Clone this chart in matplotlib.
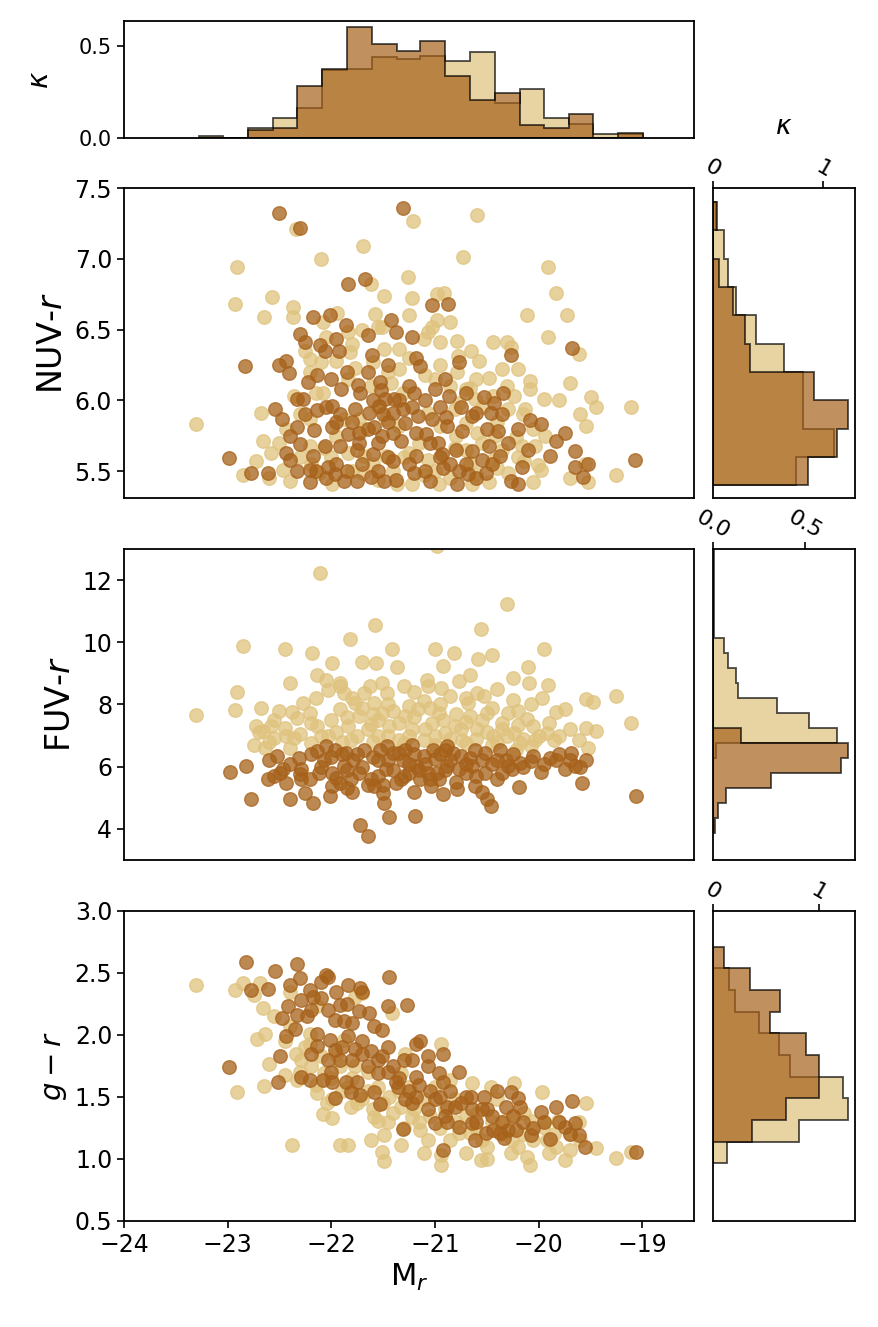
import numpy as np
import matplotlib
matplotlib.use('Agg')
import matplotlib.pyplot as plt

TAN = '#dfc27d'
BROWN = '#a6611a'
ALPHA = 0.7

# ---- marginal histograms (normalised, kappa) ----
mr_edges = [-23.28, -23.04, -22.80, -22.56, -22.33, -22.09, -21.85, -21.61, -21.37,
            -21.14, -20.90, -20.66, -20.42, -20.18, -19.95, -19.71, -19.47, -19.23, -18.99]
mr_kappa_tan = [0.011, 0, 0.057, 0.108, 0.163, 0.370, 0.375, 0.443, 0.432,
                0.447, 0.418, 0.471, 0.189, 0.267, 0.108, 0.077, 0.020, 0.020]
mr_kappa_brown = [0, 0, 0.044, 0.057, 0.284, 0.379, 0.608, 0.515, 0.473,
                  0.529, 0.341, 0.205, 0.244, 0.073, 0.055, 0.130, 0, 0.026]

nuv_edges = [5.4, 5.6, 5.8, 6.0, 6.2, 6.4, 6.6, 6.8, 7.0, 7.2, 7.4]
nuv_kappa_tan = [0.748, 1.10, 0.817, 0.817, 0.643, 0.390, 0.204, 0.132, 0.096, 0.030]
nuv_kappa_brown = [0.865, 1.12, 1.225, 0.913, 0.336, 0.288, 0.180, 0.051, 0, 0.035]

fuv_edges = [3.874, 4.356, 4.839, 5.321, 5.803, 6.286, 6.768, 7.250, 7.733, 8.215,
             8.697, 9.180, 9.662, 10.145, 10.627, 11.109, 11.592, 12.074, 12.556, 13.039]
fuv_kappa_tan = [0, 0, 0, 0, 0, 0.016, 0.674, 0.521, 0.346, 0.136,
                 0.127, 0.082, 0.059, 0.008, 0.004, 0.004, 0.004, 0.004, 0.004]
fuv_kappa_brown = [0.011, 0.029, 0.068, 0.312, 0.695, 0.733, 0.151, 0, 0, 0,
                   0, 0, 0, 0, 0, 0, 0, 0, 0]

gr_edges = [0.965, 1.140, 1.315, 1.489, 1.664, 1.838, 2.013, 2.188, 2.362, 2.537, 2.712]
gr_kappa_tan = [0.132, 0.812, 1.279, 1.226, 0.724, 0.624, 0.439, 0.207, 0.154, 0]
gr_kappa_brown = [0, 0.370, 0.693, 1.006, 1.006, 0.875, 0.536, 0.636, 0.351, 0.107]

# ---- scatter points (M_r, colour) ----
nuv_tan = [(-22.34, 7.21), (-21.21, 7.27), (-20.59, 7.31), (-22.91, 6.94), (-22.10, 7.00), (-21.69, 7.09),
           (-20.73, 7.01), (-19.91, 6.94), (-22.93, 6.68), (-22.57, 6.73), (-22.65, 6.59), (-22.37, 6.66),
           (-22.37, 6.59), (-21.94, 6.62), (-21.62, 6.82), (-21.49, 6.74), (-21.26, 6.87), (-21.22, 6.72),
           (-20.98, 6.75), (-20.91, 6.76), (-21.58, 6.61), (-19.83, 6.76), (-20.11, 6.60), (-19.73, 6.60),
           (-19.91, 6.45), (-19.61, 6.33), (-19.70, 6.12), (-19.49, 6.02), (-19.45, 5.95), (-19.11, 5.95),
           (-19.54, 5.82), (-23.31, 5.83), (-22.68, 5.91), (-22.66, 5.71), (-22.58, 5.63), (-22.73, 5.57),
           (-22.85, 5.47), (-22.40, 5.43), (-19.25, 5.47), (-19.52, 5.42), (-20.05, 5.42), (-20.98, 6.57),
           (-21.07, 6.48), (-21.03, 6.52), (-20.95, 6.41), (-20.79, 6.42), (-20.44, 6.41), (-20.30, 6.41),
           (-20.27, 6.38), (-20.78, 6.31), (-20.57, 6.28), (-20.48, 6.16), (-20.35, 6.22), (-20.20, 6.22),
           (-20.08, 6.14), (-20.08, 6.08), (-19.95, 6.01), (-20.24, 6.03), (-20.29, 5.94), (-20.13, 5.94),
           (-19.94, 5.75), (-20.03, 5.68), (-20.01, 5.54), (-19.98, 5.51), (-21.49, 6.36), (-21.35, 6.36),
           (-21.82, 6.34), (-22.21, 6.29), (-22.10, 6.27), (-21.77, 6.23), (-21.35, 6.22), (-21.55, 6.52),
           (-21.51, 6.52), (-21.84, 6.48), (-22.08, 6.55), (-21.00, 6.15), (-20.79, 6.20), (-20.70, 6.08),
           (-20.66, 6.09), (-20.77, 5.98), (-20.61, 6.01), (-20.44, 6.03), (-21.11, 6.43), (-21.42, 6.12),
           (-22.08, 6.05), (-21.84, 6.15), (-21.62, 6.10), (-21.31, 6.05), (-22.21, 6.20), (-22.36, 6.03),
           (-22.44, 5.80), (-22.21, 5.87), (-21.88, 5.87), (-21.73, 5.87), (-21.47, 5.87), (-21.07, 5.91),
           (-20.81, 5.94), (-20.70, 5.84), (-20.59, 5.77), (-20.42, 5.75), (-20.22, 5.74), (-20.16, 5.68),
           (-22.21, 5.68), (-22.07, 5.66), (-21.84, 5.63), (-21.68, 5.61), (-21.47, 5.61), (-21.25, 5.63),
           (-21.07, 5.58), (-20.81, 5.66), (-20.66, 5.56), (-20.44, 5.58), (-20.14, 5.57), (-22.47, 5.51),
           (-22.12, 5.49), (-21.99, 5.41), (-21.69, 5.49), (-21.55, 5.44), (-21.37, 5.41), (-21.22, 5.41),
           (-21.11, 5.47), (-20.96, 5.41), (-20.64, 5.41), (-20.48, 5.42), (-20.29, 5.49),
           (-22.15, 6.05), (-21.95, 6.28), (-21.80, 6.40), (-21.60, 6.27), (-21.45, 6.20), (-21.25, 6.30),
           (-21.10, 6.18), (-20.95, 6.25), (-20.85, 6.10), (-20.60, 6.15), (-20.55, 5.95), (-20.40, 5.85),
           (-20.30, 6.10), (-20.15, 5.90), (-20.05, 5.80), (-21.95, 5.75), (-21.70, 5.80), (-21.55, 5.95),
           (-21.35, 5.82), (-21.15, 5.70), (-20.95, 5.82), (-20.80, 5.75), (-20.70, 5.65), (-20.55, 5.70),
           (-20.35, 5.65), (-20.20, 5.60), (-22.30, 5.60), (-22.20, 5.55), (-22.00, 5.60), (-21.80, 5.50),
           (-21.60, 5.55), (-21.40, 5.50), (-21.30, 5.60), (-21.00, 5.50), (-20.85, 5.45), (-20.60, 5.48),
           (-20.40, 5.52), (-22.60, 5.45), (-22.50, 5.70), (-22.30, 5.90), (-22.05, 6.45), (-21.70, 6.50),
           (-21.25, 6.60), (-20.85, 6.55), (-20.65, 6.35), (-19.80, 6.00), (-19.60, 5.90), (-19.55, 5.55),
           (-19.70, 5.45), (-22.25, 6.35)]
nuv_brown = [(-22.50, 7.32), (-21.31, 7.36), (-22.30, 7.22), (-21.84, 6.82), (-21.67, 6.86), (-21.03, 6.67),
             (-20.87, 6.68), (-22.18, 6.59), (-22.01, 6.60), (-21.86, 6.53), (-21.42, 6.57), (-21.38, 6.48),
             (-21.65, 6.46), (-21.22, 6.45), (-22.30, 6.47), (-22.25, 6.41), (-22.11, 6.39), (-21.95, 6.43),
             (-21.93, 6.35), (-22.06, 6.35), (-21.61, 6.32), (-21.18, 6.30), (-21.14, 6.24), (-20.77, 6.27),
             (-20.27, 6.32), (-19.68, 6.37), (-22.83, 6.24), (-22.50, 6.25), (-22.44, 6.28), (-22.41, 6.19),
             (-22.22, 6.13), (-22.14, 6.18), (-22.00, 6.15), (-21.91, 6.08), (-21.74, 6.11), (-21.72, 6.05),
             (-21.53, 6.13), (-21.52, 6.07), (-22.33, 6.01), (-22.27, 6.01), (-21.39, 6.01), (-21.48, 6.01),
             (-21.20, 6.05), (-21.00, 6.08), (-20.90, 6.15), (-20.86, 6.03), (-20.53, 6.02), (-20.34, 6.05),
             (-20.43, 5.98), (-22.54, 5.94), (-22.48, 5.87), (-22.14, 5.93), (-21.99, 5.96), (-21.92, 5.90),
             (-21.77, 5.94), (-21.64, 5.91), (-21.54, 5.96), (-21.40, 5.91), (-21.31, 5.94), (-21.22, 5.95),
             (-21.16, 5.89), (-21.29, 5.84), (-21.03, 5.87), (-20.89, 5.88), (-20.88, 5.82), (-20.64, 5.89),
             (-20.60, 5.91), (-20.46, 5.91), (-20.08, 5.86), (-19.98, 5.83), (-22.33, 5.81), (-22.17, 5.79),
             (-21.99, 5.81), (-21.84, 5.76), (-21.73, 5.77), (-21.59, 5.81), (-21.51, 5.75), (-21.40, 5.77),
             (-21.18, 5.77), (-21.09, 5.76), (-20.74, 5.78), (-20.50, 5.80), (-20.39, 5.78), (-20.29, 5.70),
             (-19.74, 5.77), (-19.83, 5.71), (-22.30, 5.69), (-22.06, 5.68), (-21.92, 5.68), (-21.73, 5.70),
             (-21.55, 5.70), (-21.33, 5.71), (-20.97, 5.70), (-20.48, 5.68), (-22.99, 5.59), (-22.44, 5.63),
             (-22.40, 5.58), (-22.18, 5.61), (-21.60, 5.62), (-21.40, 5.57), (-21.18, 5.61), (-20.93, 5.62),
             (-20.64, 5.64), (-20.55, 5.58), (-20.37, 5.61), (-19.89, 5.61), (-19.65, 5.64), (-19.07, 5.58),
             (-22.77, 5.49), (-22.61, 5.49), (-22.33, 5.50), (-22.21, 5.51), (-22.03, 5.53), (-21.96, 5.48),
             (-21.88, 5.43), (-21.75, 5.43), (-21.62, 5.46), (-21.49, 5.43), (-21.38, 5.44), (-21.20, 5.49),
             (-21.05, 5.43), (-20.79, 5.41), (-20.77, 5.50), (-20.68, 5.48), (-20.51, 5.49), (-20.27, 5.43),
             (-20.20, 5.41), (-20.16, 5.53), (-19.57, 5.46), (-19.65, 5.53), (-19.52, 5.55), (-22.21, 5.42),
             (-20.92, 5.52),
             (-22.05, 5.45), (-21.95, 5.55), (-21.85, 5.50), (-21.70, 5.55), (-21.55, 5.50), (-21.45, 5.60),
             (-21.25, 5.55), (-21.10, 5.50), (-20.95, 5.60), (-20.85, 5.55), (-20.70, 5.55), (-20.60, 5.45),
             (-20.45, 5.55), (-21.95, 5.85), (-21.80, 5.85), (-21.65, 5.80), (-21.45, 5.85), (-21.35, 6.00),
             (-21.25, 6.10), (-21.10, 6.00), (-20.95, 5.95), (-20.75, 5.95), (-20.70, 6.05), (-21.85, 6.20),
             (-21.65, 6.20), (-21.45, 6.25), (-22.05, 5.95), (-22.25, 5.90), (-22.40, 5.75), (-20.20, 5.80),
             (-20.35, 5.90), (-20.10, 5.65), (-21.60, 6.00), (-21.50, 5.90), (-21.05, 5.70), (-20.80, 5.65),
             (-22.15, 5.50), (-21.75, 5.65)]

fuv_tan = [(-20.98, 13.10), (-22.11, 12.23), (-20.30, 11.24), (-21.58, 10.55), (-20.56, 10.44), (-21.82, 10.12),
           (-22.85, 9.88), (-22.45, 9.79), (-22.19, 9.66), (-21.41, 9.77), (-21.00, 9.80), (-20.82, 9.66),
           (-19.95, 9.80), (-21.99, 9.34), (-21.70, 9.36), (-21.57, 9.34), (-21.37, 9.20), (-20.92, 9.23),
           (-20.58, 9.45), (-20.45, 9.58), (-20.10, 9.20), (-22.14, 8.96), (-22.40, 8.70), (-21.92, 8.70),
           (-22.05, 8.80), (-21.63, 8.59), (-21.51, 8.70), (-21.30, 8.59), (-21.08, 8.80), (-20.94, 8.54),
           (-20.77, 8.75), (-20.66, 8.96), (-20.25, 8.86), (-20.09, 8.70), (-19.91, 8.64), (-22.91, 8.40),
           (-22.03, 8.48), (-21.88, 8.38), (-21.46, 8.38), (-20.59, 8.38), (-20.53, 8.27), (-20.25, 8.16),
           (-19.97, 8.21), (-19.54, 8.18), (-19.47, 8.08), (-19.25, 8.27), (-23.31, 7.65), (-22.93, 7.81),
           (-22.68, 7.89), (-22.27, 8.05), (-22.38, 7.75), (-21.77, 8.05), (-21.59, 8.05), (-21.25, 7.95),
           (-21.11, 8.11), (-20.85, 8.27), (-20.68, 8.05), (-20.07, 8.00), (-19.74, 7.86), (-19.83, 7.75),
           (-19.11, 7.41), (-22.73, 7.30), (-22.58, 7.30), (-22.66, 7.14), (-22.75, 6.71), (-22.64, 6.61),
           (-22.55, 6.93), (-22.44, 6.98), (-22.36, 6.93), (-22.40, 6.61), (-22.33, 7.57), (-22.21, 7.73),
           (-22.14, 7.30), (-22.03, 6.98), (-21.92, 7.84), (-21.84, 7.30), (-21.81, 6.87), (-21.73, 7.63),
           (-21.62, 7.36), (-21.55, 6.98), (-21.51, 7.73), (-21.44, 7.30), (-21.35, 6.87), (-21.29, 7.63),
           (-21.22, 7.20), (-21.16, 7.84), (-21.11, 6.87), (-21.03, 7.41), (-20.96, 7.73), (-20.90, 7.09),
           (-20.81, 7.30), (-20.74, 6.87), (-20.66, 7.63), (-20.59, 7.20), (-20.50, 7.73), (-20.44, 6.98),
           (-20.35, 7.41), (-20.29, 7.73), (-20.24, 7.09), (-20.18, 6.77), (-20.11, 7.52), (-20.03, 6.87),
           (-19.92, 7.09), (-19.85, 6.87), (-19.61, 6.87), (-19.54, 7.25), (-19.45, 7.16), (-19.52, 6.61),
           (-20.07, 6.66), (-20.22, 6.55), (-21.07, 8.59), (-21.92, 8.59), (-21.68, 8.38),
           (-22.70, 7.10), (-22.55, 7.50), (-22.45, 7.25), (-22.30, 7.05), (-22.20, 7.40), (-22.10, 7.00),
           (-22.00, 7.50), (-21.95, 7.10), (-21.85, 7.60), (-21.75, 7.00), (-21.70, 7.90), (-21.65, 7.20),
           (-21.55, 7.50), (-21.45, 7.00), (-21.40, 7.80), (-21.35, 7.40), (-21.25, 7.00), (-21.20, 7.60),
           (-21.10, 7.20), (-21.05, 7.90), (-21.00, 7.00), (-20.92, 7.50), (-20.85, 6.90), (-20.80, 7.70),
           (-20.75, 7.20), (-20.70, 7.45), (-20.60, 6.90), (-20.55, 7.50), (-20.50, 7.10), (-20.45, 7.90),
           (-20.40, 6.80), (-20.35, 7.20), (-20.30, 7.00), (-20.20, 7.35), (-20.15, 6.90), (-20.05, 7.30),
           (-20.00, 7.00), (-19.90, 7.40), (-19.80, 7.00), (-19.70, 7.20), (-22.15, 8.20), (-21.80, 8.20),
           (-21.45, 8.00), (-21.20, 8.40), (-20.95, 8.00), (-20.70, 8.20), (-20.40, 8.50), (-20.20, 7.80),
           (-21.60, 7.70), (-22.50, 7.80), (-22.60, 6.80), (-22.20, 6.75), (-21.90, 6.80), (-21.60, 6.80),
           (-21.30, 6.75), (-21.00, 6.70), (-20.70, 6.75), (-20.45, 6.70)]
fuv_brown = [(-22.98, 5.84), (-22.82, 6.02), (-22.77, 4.95), (-22.61, 5.59), (-22.52, 6.34), (-22.49, 5.80),
             (-22.40, 4.95), (-22.44, 5.48), (-22.31, 6.29), (-22.29, 5.91), (-22.21, 5.59), (-22.25, 5.16),
             (-22.18, 4.84), (-22.14, 6.50), (-22.12, 5.80), (-22.07, 6.23), (-22.01, 5.05), (-21.99, 5.80),
             (-21.96, 6.55), (-21.92, 5.48), (-21.88, 6.02), (-21.85, 5.32), (-21.79, 6.23), (-21.73, 5.80),
             (-21.72, 4.14), (-21.68, 6.55), (-21.65, 3.77), (-21.62, 5.59), (-21.55, 6.23), (-21.53, 6.55),
             (-21.50, 5.16), (-21.49, 4.84), (-21.47, 5.91), (-21.44, 4.38), (-21.40, 6.45), (-21.38, 5.48),
             (-21.31, 6.23), (-21.29, 6.55), (-21.25, 5.80), (-21.19, 4.41), (-21.18, 6.02), (-21.14, 5.59),
             (-21.11, 6.34), (-21.04, 5.37), (-21.02, 6.55), (-20.98, 5.80), (-20.92, 5.11), (-20.90, 6.55),
             (-20.88, 6.02), (-20.83, 6.45), (-20.79, 5.27), (-20.77, 5.91), (-20.64, 6.02), (-20.61, 5.37),
             (-20.61, 6.55), (-20.52, 6.45), (-20.52, 5.80), (-20.50, 4.95), (-20.46, 4.73), (-20.40, 5.59),
             (-20.37, 6.55), (-20.40, 6.23), (-20.29, 6.02), (-20.19, 5.35), (-20.18, 6.12), (-20.07, 6.18),
             (-19.98, 5.84), (-19.89, 6.29), (-19.83, 6.23), (-19.74, 5.91), (-19.69, 6.45), (-19.65, 6.02),
             (-19.58, 5.48), (-19.54, 6.23), (-19.06, 5.05), (-22.05, 6.66), (-21.86, 6.45), (-21.46, 6.66),
             (-21.22, 6.71), (-20.88, 6.66), (-20.66, 6.29), (-20.31, 6.23), (-20.26, 5.91), (-21.99, 5.37),
             (-21.81, 5.59), (-21.59, 5.37), (-21.33, 5.59), (-21.07, 5.80), (-20.96, 5.59), (-22.29, 5.59),
             (-22.47, 5.91), (-20.70, 5.80),
             (-22.40, 6.10), (-22.30, 5.75), (-22.20, 6.40), (-22.10, 6.00), (-22.00, 6.30), (-21.95, 5.65),
             (-21.90, 6.40), (-21.85, 5.90), (-21.75, 6.40), (-21.70, 6.00), (-21.65, 5.40), (-21.60, 6.30),
             (-21.55, 5.70), (-21.45, 6.20), (-21.40, 5.90), (-21.35, 6.45), (-21.30, 5.70), (-21.25, 6.10),
             (-21.20, 6.40), (-21.15, 5.90), (-21.10, 6.10), (-21.05, 5.60), (-21.00, 6.25), (-20.95, 6.40),
             (-20.90, 5.90), (-20.85, 6.20), (-20.75, 6.35), (-20.70, 6.10), (-20.60, 5.70), (-20.55, 6.20),
             (-20.45, 6.10), (-20.35, 5.80), (-20.25, 6.40), (-20.15, 6.00), (-20.05, 6.35), (-19.95, 6.10),
             (-19.80, 6.40), (-19.70, 6.20), (-19.60, 6.00), (-22.60, 6.20), (-22.55, 5.70), (-21.80, 5.20),
             (-21.50, 5.40), (-21.20, 5.20), (-20.80, 5.50), (-20.55, 5.20)]

gr_tan = [(-23.31, 2.40), (-22.93, 2.36), (-22.85, 2.42), (-22.75, 2.32), (-22.69, 2.42), (-22.66, 2.22),
          (-22.72, 1.97), (-22.64, 2.01), (-22.91, 1.54), (-22.65, 1.59), (-22.60, 1.77), (-22.45, 1.68),
          (-22.38, 1.11), (-22.40, 2.35), (-22.34, 1.85), (-22.29, 1.80), (-22.14, 2.23), (-22.21, 1.93),
          (-22.10, 1.83), (-22.07, 1.69), (-22.40, 2.07), (-22.21, 2.01), (-22.08, 1.36), (-21.99, 1.33),
          (-21.92, 1.11), (-21.84, 1.11), (-22.04, 1.45), (-21.92, 1.75), (-21.88, 1.96), (-21.77, 2.31),
          (-21.70, 2.34), (-21.77, 1.75), (-21.81, 1.42), (-21.70, 1.48), (-21.59, 1.34), (-21.55, 1.31),
          (-21.49, 1.19), (-21.51, 1.06), (-21.49, 0.98), (-21.41, 2.18), (-21.40, 1.37), (-21.33, 1.11),
          (-21.29, 1.85), (-21.33, 1.69), (-21.25, 1.58), (-21.22, 1.34), (-21.14, 1.23), (-21.07, 1.15),
          (-21.00, 1.58), (-20.94, 1.93), (-20.94, 1.03), (-20.94, 0.95), (-20.85, 1.64), (-20.77, 1.21),
          (-20.70, 1.05), (-20.64, 1.61), (-20.59, 1.37), (-20.56, 0.99), (-20.50, 1.10), (-20.46, 1.58),
          (-20.40, 1.48), (-20.33, 1.31), (-20.27, 1.05), (-20.24, 1.61), (-20.26, 1.15), (-20.14, 1.37),
          (-20.11, 1.02), (-20.08, 0.95), (-20.07, 1.31), (-19.97, 1.54), (-19.96, 1.26), (-19.92, 1.15),
          (-19.83, 1.10), (-19.74, 0.99), (-19.70, 1.07), (-19.61, 1.30), (-19.54, 1.45), (-19.45, 1.09),
          (-19.25, 1.01), (-19.11, 1.06), (-21.99, 1.48), (-21.84, 1.58), (-21.55, 1.58), (-21.44, 1.50),
          (-21.11, 1.48), (-20.81, 1.48), (-20.66, 1.21), (-21.11, 1.05), (-21.33, 1.42), (-22.14, 1.53),
          (-22.33, 1.64), (-21.62, 1.15), (-19.81, 1.31),
          (-22.55, 2.15), (-22.45, 1.95), (-22.30, 1.70), (-22.20, 1.75), (-22.15, 1.60), (-22.00, 1.65),
          (-21.90, 1.55), (-21.80, 1.65), (-21.75, 1.45), (-21.65, 1.55), (-21.60, 1.40), (-21.50, 1.45),
          (-21.45, 1.30), (-21.35, 1.55), (-21.30, 1.25), (-21.20, 1.40), (-21.15, 1.30), (-21.05, 1.35),
          (-20.95, 1.25), (-20.90, 1.40), (-20.80, 1.30), (-20.70, 1.35), (-20.60, 1.25), (-20.55, 1.15),
          (-20.45, 1.30), (-20.35, 1.20), (-20.25, 1.35), (-20.15, 1.20), (-20.05, 1.15), (-19.95, 1.30),
          (-19.85, 1.20), (-19.70, 1.20), (-19.60, 1.15), (-21.95, 1.85), (-22.25, 1.90), (-21.65, 1.70),
          (-20.85, 1.15), (-20.50, 1.00), (-20.20, 1.10), (-19.90, 1.05)]
gr_brown = [(-22.82, 2.59), (-22.54, 2.52), (-22.33, 2.57), (-22.30, 2.46), (-22.05, 2.48), (-22.03, 2.47),
            (-22.10, 2.43), (-21.84, 2.40), (-21.72, 2.38), (-21.70, 2.35), (-21.44, 2.47), (-21.27, 2.24),
            (-21.45, 2.23), (-22.77, 2.36), (-22.61, 2.37), (-22.21, 2.36), (-22.18, 2.31), (-22.29, 2.28),
            (-22.42, 2.23), (-22.33, 2.16), (-22.23, 2.15), (-22.48, 2.14), (-22.03, 2.20), (-21.92, 2.24),
            (-21.96, 2.12), (-21.88, 2.11), (-21.73, 2.19), (-21.64, 2.18), (-21.59, 2.07), (-21.51, 2.04),
            (-22.44, 1.99), (-22.14, 2.01), (-22.01, 1.96), (-21.96, 1.88), (-21.84, 1.99), (-21.77, 1.89),
            (-21.70, 1.85), (-21.62, 1.87), (-21.51, 1.83), (-21.18, 1.93), (-21.14, 1.95), (-21.07, 1.83),
            (-20.92, 1.85), (-22.14, 1.91), (-22.03, 1.80), (-21.92, 1.80), (-22.49, 1.83), (-22.99, 1.74),
            (-22.51, 1.62), (-22.29, 1.66), (-22.21, 1.64), (-22.08, 1.64), (-21.99, 1.62), (-21.86, 1.62),
            (-21.75, 1.62), (-21.55, 1.69), (-21.40, 1.75), (-21.38, 1.62), (-21.22, 1.80), (-21.18, 1.66),
            (-21.07, 1.75), (-20.96, 1.69), (-20.92, 1.62), (-20.77, 1.70), (-21.96, 1.49), (-21.81, 1.54),
            (-21.72, 1.52), (-21.59, 1.54), (-21.53, 1.44), (-21.36, 1.58), (-21.29, 1.48), (-21.22, 1.45),
            (-21.18, 1.50), (-21.07, 1.40), (-21.00, 1.48), (-20.88, 1.42), (-20.81, 1.42), (-20.70, 1.50),
            (-20.64, 1.40), (-20.53, 1.50), (-20.50, 1.40), (-20.40, 1.55), (-20.27, 1.54), (-20.31, 1.42),
            (-20.20, 1.49), (-20.18, 1.42), (-19.98, 1.38), (-19.83, 1.42), (-19.68, 1.47), (-21.31, 1.24),
            (-21.00, 1.29), (-20.88, 1.30), (-20.77, 1.26), (-20.64, 1.29), (-20.61, 1.15), (-20.51, 1.21),
            (-20.44, 1.23), (-20.37, 1.21), (-20.29, 1.23), (-20.22, 1.23), (-20.07, 1.19), (-19.89, 1.16),
            (-19.74, 1.26), (-19.65, 1.29), (-19.61, 1.19), (-19.55, 1.10), (-20.92, 1.07), (-19.06, 1.06),
            (-20.33, 1.17),
            (-22.40, 2.40), (-22.20, 2.20), (-22.10, 2.30), (-21.95, 2.35), (-21.85, 2.25), (-21.80, 2.10),
            (-21.90, 1.90), (-21.80, 1.80), (-21.70, 1.95), (-21.65, 1.75), (-21.55, 1.80), (-21.45, 1.70),
            (-21.35, 1.65), (-21.25, 1.55), (-21.15, 1.60), (-21.05, 1.55), (-20.95, 1.50), (-20.85, 1.55),
            (-20.75, 1.45), (-20.65, 1.50), (-20.55, 1.40), (-20.45, 1.35), (-20.35, 1.30), (-20.25, 1.35),
            (-20.15, 1.30), (-20.05, 1.25), (-19.95, 1.30), (-19.80, 1.30), (-19.70, 1.20), (-22.35, 2.05),
            (-22.20, 1.85), (-22.00, 1.70), (-21.45, 1.90), (-21.30, 1.80), (-20.90, 1.35), (-20.60, 1.30)]


def hist_panel(ax, edges, tan_k, brown_k, horizontal=False):
    edges = np.asarray(edges)
    centres = 0.5 * (edges[1:] + edges[:-1])
    orient = 'horizontal' if horizontal else 'vertical'
    # tan first, brown drawn over it
    for k, c in ((tan_k, TAN), (brown_k, BROWN)):
        ax.hist(centres, bins=edges, weights=k, histtype='stepfilled', color=c,
                alpha=ALPHA, edgecolor='k', linewidth=1.3, orientation=orient)


def scatter_panel(ax, tan_pts, brown_pts):
    for pts, c in ((tan_pts, TAN), (brown_pts, BROWN)):
        x, y = np.array(pts).T
        ax.scatter(x, y, s=95, color=c, alpha=0.75)
    ax.set_xlim(-24, -18.5)


def style(ax):
    for sp in ax.spines.values():
        sp.set_linewidth(1.3)
    ax.tick_params(width=1.2, length=5, labelsize=17)


W, H = 879, 1327
fig = plt.figure(figsize=(W / 100, H / 100), dpi=100)


def rect(x0, y0, x1, y1):
    return [x0 / W, 1 - y1 / H, (x1 - x0) / W, (y1 - y0) / H]


# top histogram of M_r
ax_top = fig.add_axes(rect(124, 21, 694, 138))
hist_panel(ax_top, mr_edges, mr_kappa_tan, mr_kappa_brown)
ax_top.set_xlim(-24, -18.5)
ax_top.set_xticks([])
ax_top.set_yticks([0.0, 0.5])
style(ax_top)
ax_top.tick_params(labelsize=15)
ax_top.set_ylabel(r'$\kappa$', fontsize=20, labelpad=18)

panels = [
    (188, 498, nuv_tan, nuv_brown, nuv_edges, nuv_kappa_tan, nuv_kappa_brown,
     (5.31, 7.5), [5.5, 6.0, 6.5, 7.0, 7.5], 'NUV-$r$', 24, [0, 1]),
    (549, 860, fuv_tan, fuv_brown, fuv_edges, fuv_kappa_tan, fuv_kappa_brown,
     (3, 13), [4, 6, 8, 10, 12], 'FUV-$r$', 24, [0.0, 0.5]),
    (911, 1221, gr_tan, gr_brown, gr_edges, gr_kappa_tan, gr_kappa_brown,
     (0.5, 3.0), [0.5, 1.0, 1.5, 2.0, 2.5, 3.0], '$g-r$', 21, [0, 1]),
]

for i, (y0, y1, tp, bp, ed, tk, bk, ylim, yt, lab, lfs, xt) in enumerate(panels):
    ax = fig.add_axes(rect(124, y0, 694, y1))
    scatter_panel(ax, tp, bp)
    ax.set_ylim(*ylim)
    ax.set_yticks(yt)
    ax.set_ylabel(lab, fontsize=lfs)
    style(ax)
    if i < 2:
        ax.set_xticks([])
    else:
        ax.set_xticks([-24, -23, -22, -21, -20, -19])
        ax.set_xticklabels(['\u221224', '\u221223', '\u221222', '\u221221', '\u221220', '\u221219'])
        ax.set_xlabel('M$_r$', fontsize=22)

    axh = fig.add_axes(rect(713, y0, 855, y1))
    hist_panel(axh, ed, tk, bk, horizontal=True)
    axh.set_ylim(*ylim)
    axh.set_yticks([])
    axh.set_xticks(xt)
    style(axh)
    axh.xaxis.tick_top()
    axh.tick_params(axis='x', labelrotation=-30, labelsize=16, pad=0)
    if i == 0:
        axh.xaxis.set_label_position('top')
        axh.set_xlabel(r'$\kappa$', fontsize=19, labelpad=16)

fig.savefig('out.png', dpi=100)
